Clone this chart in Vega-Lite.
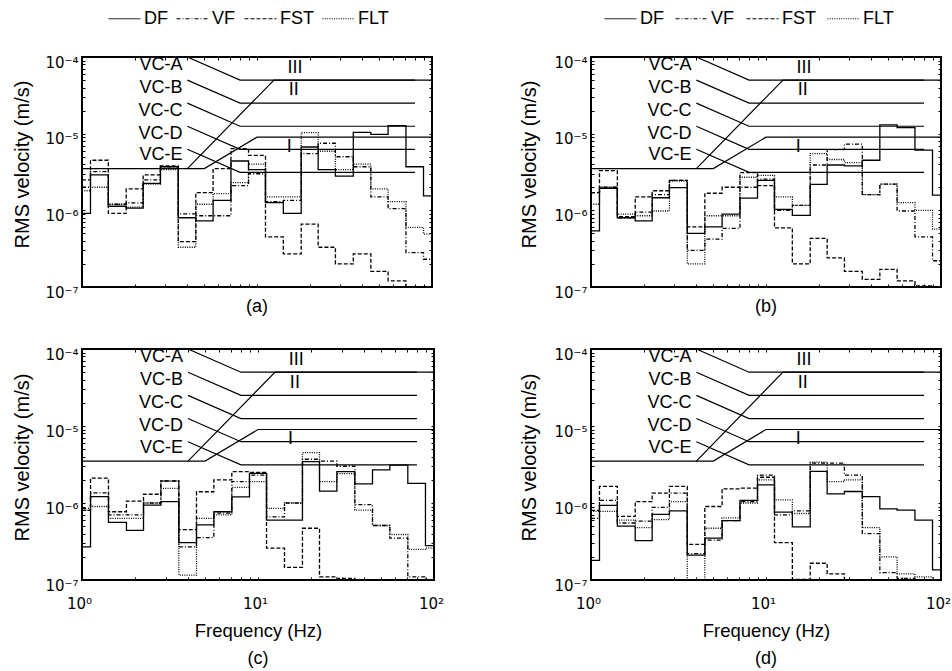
{
"$schema": "https://vega.github.io/schema/vega-lite/v6.json",
"padding": {"left": 10, "top": 1, "right": 5, "bottom": 5},
"config": {
  "font": "Liberation Sans",
  "view": {"stroke": "black", "strokeWidth": 2},
  "axis": {"labelFont": "DejaVu Sans", "labelFontSize": 15, "labelColor": "black", "titleFont": "Liberation Sans", "titleFontSize": 18.5, "titleFontWeight": "normal", "titleColor": "black", "grid": false, "domain": false, "tickColor": "black", "tickWidth": 1, "tickSize": -3, "labelOverlap": false, "labelFlush": false, "labelBound": false},
  "title": {"font": "Liberation Sans", "fontSize": 18, "fontWeight": "normal", "color": "black"},
  "legend": {"labelFont": "Liberation Sans", "labelColor": "black"}
},
"datasets": {
  "bands": [
    {"p":"a","s":"DF","f":1,"v":9.1e-7},{"p":"a","s":"DF","f":1.25,"v":2.9e-6},{"p":"a","s":"DF","f":1.6,"v":1.13e-6},{"p":"a","s":"DF","f":2,"v":1.07e-6},{"p":"a","s":"DF","f":2.5,"v":2.25e-6},{"p":"a","s":"DF","f":3.15,"v":3.7e-6},{"p":"a","s":"DF","f":4,"v":8.0e-7},{"p":"a","s":"DF","f":5,"v":7.3e-7},{"p":"a","s":"DF","f":6.3,"v":1.35e-6},{"p":"a","s":"DF","f":8,"v":4.4e-6},{"p":"a","s":"DF","f":10,"v":3.4e-6},{"p":"a","s":"DF","f":12.5,"v":1.26e-6},{"p":"a","s":"DF","f":16,"v":9.1e-7},{"p":"a","s":"DF","f":20,"v":6.7e-6},{"p":"a","s":"DF","f":25,"v":3.4e-6},{"p":"a","s":"DF","f":31.5,"v":2.8e-6},{"p":"a","s":"DF","f":40,"v":1.04e-5},{"p":"a","s":"DF","f":50,"v":9.8e-6},{"p":"a","s":"DF","f":63,"v":1.27e-5},{"p":"a","s":"DF","f":80,"v":3.7e-6},{"p":"a","s":"DF","f":100,"v":1.54e-6},
    {"p":"a","s":"VF","f":1,"v":2.0e-6},{"p":"a","s":"VF","f":1.25,"v":3.2e-6},{"p":"a","s":"VF","f":1.6,"v":1.2e-6},{"p":"a","s":"VF","f":2,"v":1.25e-6},{"p":"a","s":"VF","f":2.5,"v":2.5e-6},{"p":"a","s":"VF","f":3.15,"v":3.7e-6},{"p":"a","s":"VF","f":4,"v":9e-7},{"p":"a","s":"VF","f":5,"v":8.5e-7},{"p":"a","s":"VF","f":6.3,"v":8.5e-7},{"p":"a","s":"VF","f":8,"v":2.1e-6},{"p":"a","s":"VF","f":10,"v":3.0e-6},{"p":"a","s":"VF","f":12.5,"v":1.3e-6},{"p":"a","s":"VF","f":16,"v":1.35e-6},{"p":"a","s":"VF","f":20,"v":5.5e-6},{"p":"a","s":"VF","f":25,"v":7.5e-6},{"p":"a","s":"VF","f":31.5,"v":5.0e-6},{"p":"a","s":"VF","f":40,"v":3.7e-6},{"p":"a","s":"VF","f":50,"v":1.5e-6},{"p":"a","s":"VF","f":63,"v":1.05e-6},{"p":"a","s":"VF","f":80,"v":2.8e-7},{"p":"a","s":"VF","f":100,"v":2.3e-7},
    {"p":"a","s":"FST","f":1,"v":2.5e-6},{"p":"a","s":"FST","f":1.25,"v":4.5e-6},{"p":"a","s":"FST","f":1.6,"v":9.1e-7},{"p":"a","s":"FST","f":2,"v":1.9e-6},{"p":"a","s":"FST","f":2.5,"v":2.9e-6},{"p":"a","s":"FST","f":3.15,"v":3.8e-6},{"p":"a","s":"FST","f":4,"v":3.9e-7},{"p":"a","s":"FST","f":5,"v":1.7e-6},{"p":"a","s":"FST","f":6.3,"v":3.5e-6},{"p":"a","s":"FST","f":8,"v":6.4e-6},{"p":"a","s":"FST","f":10,"v":5.2e-6},{"p":"a","s":"FST","f":12.5,"v":4.5e-7},{"p":"a","s":"FST","f":16,"v":2.7e-7},{"p":"a","s":"FST","f":20,"v":6.6e-7},{"p":"a","s":"FST","f":25,"v":3.3e-7},{"p":"a","s":"FST","f":31.5,"v":2.0e-7},{"p":"a","s":"FST","f":40,"v":2.7e-7},{"p":"a","s":"FST","f":50,"v":1.6e-7},{"p":"a","s":"FST","f":63,"v":1.2e-7},{"p":"a","s":"FST","f":80,"v":9e-8},{"p":"a","s":"FST","f":100,"v":9e-8},
    {"p":"a","s":"FLT","f":1,"v":1.8e-6},{"p":"a","s":"FLT","f":1.25,"v":2.0e-6},{"p":"a","s":"FLT","f":1.6,"v":1.2e-6},{"p":"a","s":"FLT","f":2,"v":1.1e-6},{"p":"a","s":"FLT","f":2.5,"v":2.2e-6},{"p":"a","s":"FLT","f":3.15,"v":3.4e-6},{"p":"a","s":"FLT","f":4,"v":3.3e-7},{"p":"a","s":"FLT","f":5,"v":1.2e-6},{"p":"a","s":"FLT","f":6.3,"v":1.65e-6},{"p":"a","s":"FLT","f":8,"v":2.3e-6},{"p":"a","s":"FLT","f":10,"v":4.0e-6},{"p":"a","s":"FLT","f":12.5,"v":1.5e-6},{"p":"a","s":"FLT","f":16,"v":1.5e-6},{"p":"a","s":"FLT","f":20,"v":1.03e-5},{"p":"a","s":"FLT","f":25,"v":5.9e-6},{"p":"a","s":"FLT","f":31.5,"v":3.4e-6},{"p":"a","s":"FLT","f":40,"v":4.0e-6},{"p":"a","s":"FLT","f":50,"v":1.9e-6},{"p":"a","s":"FLT","f":63,"v":1.3e-6},{"p":"a","s":"FLT","f":80,"v":6e-7},{"p":"a","s":"FLT","f":100,"v":4.9e-7},

    {"p":"b","s":"DF","f":1,"v":5.4e-7},{"p":"b","s":"DF","f":1.25,"v":1.94e-6},{"p":"b","s":"DF","f":1.6,"v":8.0e-7},{"p":"b","s":"DF","f":2,"v":7.3e-7},{"p":"b","s":"DF","f":2.5,"v":1.46e-6},{"p":"b","s":"DF","f":3.15,"v":1.98e-6},{"p":"b","s":"DF","f":4,"v":5.0e-7},{"p":"b","s":"DF","f":5,"v":6.1e-7},{"p":"b","s":"DF","f":6.3,"v":8.9e-7},{"p":"b","s":"DF","f":8,"v":1.44e-6},{"p":"b","s":"DF","f":10,"v":2.46e-6},{"p":"b","s":"DF","f":12.5,"v":1.03e-6},{"p":"b","s":"DF","f":16,"v":8.6e-7},{"p":"b","s":"DF","f":20,"v":2.18e-6},{"p":"b","s":"DF","f":25,"v":3.9e-6},{"p":"b","s":"DF","f":31.5,"v":3.8e-6},{"p":"b","s":"DF","f":40,"v":4.5e-6},{"p":"b","s":"DF","f":50,"v":1.3e-5},{"p":"b","s":"DF","f":63,"v":1.2e-5},{"p":"b","s":"DF","f":80,"v":6.1e-6},{"p":"b","s":"DF","f":100,"v":1.58e-6},
    {"p":"b","s":"VF","f":1,"v":1.7e-6},{"p":"b","s":"VF","f":1.25,"v":2.0e-6},{"p":"b","s":"VF","f":1.6,"v":8.0e-7},{"p":"b","s":"VF","f":2,"v":9.5e-7},{"p":"b","s":"VF","f":2.5,"v":1.6e-6},{"p":"b","s":"VF","f":3.15,"v":2.46e-6},{"p":"b","s":"VF","f":4,"v":3.0e-7},{"p":"b","s":"VF","f":5,"v":4.2e-7},{"p":"b","s":"VF","f":6.3,"v":5.8e-7},{"p":"b","s":"VF","f":8,"v":2.0e-6},{"p":"b","s":"VF","f":10,"v":2.55e-6},{"p":"b","s":"VF","f":12.5,"v":1.0e-6},{"p":"b","s":"VF","f":16,"v":1.16e-6},{"p":"b","s":"VF","f":20,"v":3.9e-6},{"p":"b","s":"VF","f":25,"v":6.2e-6},{"p":"b","s":"VF","f":31.5,"v":7.3e-6},{"p":"b","s":"VF","f":40,"v":1.6e-6},{"p":"b","s":"VF","f":50,"v":2.2e-6},{"p":"b","s":"VF","f":63,"v":9.8e-7},{"p":"b","s":"VF","f":80,"v":4.5e-7},{"p":"b","s":"VF","f":100,"v":2.2e-7},
    {"p":"b","s":"FST","f":1,"v":1.7e-6},{"p":"b","s":"FST","f":1.25,"v":3.3e-6},{"p":"b","s":"FST","f":1.6,"v":8.3e-7},{"p":"b","s":"FST","f":2,"v":1.5e-6},{"p":"b","s":"FST","f":2.5,"v":1.8e-6},{"p":"b","s":"FST","f":3.15,"v":2.46e-6},{"p":"b","s":"FST","f":4,"v":6.1e-7},{"p":"b","s":"FST","f":5,"v":1.67e-6},{"p":"b","s":"FST","f":6.3,"v":2.0e-6},{"p":"b","s":"FST","f":8,"v":3.1e-6},{"p":"b","s":"FST","f":10,"v":2.1e-6},{"p":"b","s":"FST","f":12.5,"v":5.9e-7},{"p":"b","s":"FST","f":16,"v":2.0e-7},{"p":"b","s":"FST","f":20,"v":4.3e-7},{"p":"b","s":"FST","f":25,"v":2.4e-7},{"p":"b","s":"FST","f":31.5,"v":1.6e-7},{"p":"b","s":"FST","f":40,"v":1.26e-7},{"p":"b","s":"FST","f":50,"v":1.7e-7},{"p":"b","s":"FST","f":63,"v":1.2e-7},{"p":"b","s":"FST","f":80,"v":1.03e-7},{"p":"b","s":"FST","f":100,"v":9e-8},
    {"p":"b","s":"FLT","f":1,"v":1.2e-6},{"p":"b","s":"FLT","f":1.25,"v":2.0e-6},{"p":"b","s":"FLT","f":1.6,"v":8.9e-7},{"p":"b","s":"FLT","f":2,"v":8.5e-7},{"p":"b","s":"FLT","f":2.5,"v":9.8e-7},{"p":"b","s":"FLT","f":3.15,"v":2.4e-6},{"p":"b","s":"FLT","f":4,"v":2.0e-7},{"p":"b","s":"FLT","f":5,"v":8.5e-7},{"p":"b","s":"FLT","f":6.3,"v":8.5e-7},{"p":"b","s":"FLT","f":8,"v":2.7e-6},{"p":"b","s":"FLT","f":10,"v":2.85e-6},{"p":"b","s":"FLT","f":12.5,"v":1.5e-6},{"p":"b","s":"FLT","f":16,"v":1.16e-6},{"p":"b","s":"FLT","f":20,"v":5.5e-6},{"p":"b","s":"FLT","f":25,"v":4.6e-6},{"p":"b","s":"FLT","f":31.5,"v":4.2e-6},{"p":"b","s":"FLT","f":40,"v":1.6e-6},{"p":"b","s":"FLT","f":50,"v":2.2e-6},{"p":"b","s":"FLT","f":63,"v":1.26e-6},{"p":"b","s":"FLT","f":80,"v":1.0e-6},{"p":"b","s":"FLT","f":100,"v":5.7e-7},

    {"p":"c","s":"DF","f":1,"v":2.7e-7},{"p":"c","s":"DF","f":1.25,"v":1.21e-6},{"p":"c","s":"DF","f":1.6,"v":5.6e-7},{"p":"c","s":"DF","f":2,"v":4.4e-7},{"p":"c","s":"DF","f":2.5,"v":9.4e-7},{"p":"c","s":"DF","f":3.15,"v":1.04e-6},{"p":"c","s":"DF","f":4,"v":3.05e-7},{"p":"c","s":"DF","f":5,"v":5.2e-7},{"p":"c","s":"DF","f":6.3,"v":7.7e-7},{"p":"c","s":"DF","f":8,"v":1.2e-6},{"p":"c","s":"DF","f":10,"v":2.43e-6},{"p":"c","s":"DF","f":12.5,"v":6.0e-7},{"p":"c","s":"DF","f":16,"v":6.0e-7},{"p":"c","s":"DF","f":20,"v":3.44e-6},{"p":"c","s":"DF","f":25,"v":1.43e-6},{"p":"c","s":"DF","f":31.5,"v":2.55e-6},{"p":"c","s":"DF","f":40,"v":1.77e-6},{"p":"c","s":"DF","f":50,"v":2.7e-6},{"p":"c","s":"DF","f":63,"v":3.1e-6},{"p":"c","s":"DF","f":80,"v":1.8e-6},{"p":"c","s":"DF","f":100,"v":2.8e-7},
    {"p":"c","s":"VF","f":1,"v":8.5e-7},{"p":"c","s":"VF","f":1.25,"v":1.35e-6},{"p":"c","s":"VF","f":1.6,"v":7.0e-7},{"p":"c","s":"VF","f":2,"v":7.0e-7},{"p":"c","s":"VF","f":2.5,"v":1.0e-6},{"p":"c","s":"VF","f":3.15,"v":1.93e-6},{"p":"c","s":"VF","f":4,"v":2.7e-7},{"p":"c","s":"VF","f":5,"v":3.55e-7},{"p":"c","s":"VF","f":6.3,"v":7.4e-7},{"p":"c","s":"VF","f":8,"v":1.9e-6},{"p":"c","s":"VF","f":10,"v":2.3e-6},{"p":"c","s":"VF","f":12.5,"v":6.6e-7},{"p":"c","s":"VF","f":16,"v":1.0e-6},{"p":"c","s":"VF","f":20,"v":3.7e-6},{"p":"c","s":"VF","f":25,"v":3.5e-6},{"p":"c","s":"VF","f":31.5,"v":3.0e-6},{"p":"c","s":"VF","f":40,"v":9.5e-7},{"p":"c","s":"VF","f":50,"v":5.1e-7},{"p":"c","s":"VF","f":63,"v":3.5e-7},{"p":"c","s":"VF","f":80,"v":1.1e-7},{"p":"c","s":"VF","f":100,"v":9e-8},
    {"p":"c","s":"FST","f":1,"v":8e-7},{"p":"c","s":"FST","f":1.25,"v":2.1e-6},{"p":"c","s":"FST","f":1.6,"v":7.7e-7},{"p":"c","s":"FST","f":2,"v":1.06e-6},{"p":"c","s":"FST","f":2.5,"v":1.3e-6},{"p":"c","s":"FST","f":3.15,"v":1.93e-6},{"p":"c","s":"FST","f":4,"v":4.5e-7},{"p":"c","s":"FST","f":5,"v":1.4e-6},{"p":"c","s":"FST","f":6.3,"v":2.0e-6},{"p":"c","s":"FST","f":8,"v":2.55e-6},{"p":"c","s":"FST","f":10,"v":2.5e-6},{"p":"c","s":"FST","f":12.5,"v":2.6e-7},{"p":"c","s":"FST","f":16,"v":1.46e-7},{"p":"c","s":"FST","f":20,"v":4.7e-7},{"p":"c","s":"FST","f":25,"v":1.1e-7},{"p":"c","s":"FST","f":31.5,"v":1.05e-7},{"p":"c","s":"FST","f":40,"v":9e-8},{"p":"c","s":"FST","f":50,"v":9e-8},{"p":"c","s":"FST","f":63,"v":9e-8},{"p":"c","s":"FST","f":80,"v":9e-8},{"p":"c","s":"FST","f":100,"v":9e-8},
    {"p":"c","s":"FLT","f":1,"v":8.1e-7},{"p":"c","s":"FLT","f":1.25,"v":9e-7},{"p":"c","s":"FLT","f":1.6,"v":6.3e-7},{"p":"c","s":"FLT","f":2,"v":6.3e-7},{"p":"c","s":"FLT","f":2.5,"v":1.0e-6},{"p":"c","s":"FLT","f":3.15,"v":1.55e-6},{"p":"c","s":"FLT","f":4,"v":1.16e-7},{"p":"c","s":"FLT","f":5,"v":6.3e-7},{"p":"c","s":"FLT","f":6.3,"v":7.0e-7},{"p":"c","s":"FLT","f":8,"v":1.6e-6},{"p":"c","s":"FLT","f":10,"v":1.9e-6},{"p":"c","s":"FLT","f":12.5,"v":8.5e-7},{"p":"c","s":"FLT","f":16,"v":1.0e-6},{"p":"c","s":"FLT","f":20,"v":4.5e-6},{"p":"c","s":"FLT","f":25,"v":1.9e-6},{"p":"c","s":"FLT","f":31.5,"v":2.4e-6},{"p":"c","s":"FLT","f":40,"v":8.1e-7},{"p":"c","s":"FLT","f":50,"v":5.1e-7},{"p":"c","s":"FLT","f":63,"v":3.9e-7},{"p":"c","s":"FLT","f":80,"v":2.5e-7},{"p":"c","s":"FLT","f":100,"v":2.6e-7},

    {"p":"d","s":"DF","f":1,"v":1.8e-7},{"p":"d","s":"DF","f":1.25,"v":9.3e-7},{"p":"d","s":"DF","f":1.6,"v":5.0e-7},{"p":"d","s":"DF","f":2,"v":3.25e-7},{"p":"d","s":"DF","f":2.5,"v":7.1e-7},{"p":"d","s":"DF","f":3.15,"v":7.9e-7},{"p":"d","s":"DF","f":4,"v":2.1e-7},{"p":"d","s":"DF","f":5,"v":3.5e-7},{"p":"d","s":"DF","f":6.3,"v":5.9e-7},{"p":"d","s":"DF","f":8,"v":1.08e-6},{"p":"d","s":"DF","f":10,"v":1.72e-6},{"p":"d","s":"DF","f":12.5,"v":7.6e-7},{"p":"d","s":"DF","f":16,"v":4.9e-7},{"p":"d","s":"DF","f":20,"v":2.57e-6},{"p":"d","s":"DF","f":25,"v":1.31e-6},{"p":"d","s":"DF","f":31.5,"v":1.41e-6},{"p":"d","s":"DF","f":40,"v":1.21e-6},{"p":"d","s":"DF","f":50,"v":8.4e-7},{"p":"d","s":"DF","f":63,"v":8.1e-7},{"p":"d","s":"DF","f":80,"v":6.0e-7},{"p":"d","s":"DF","f":100,"v":1.35e-7},
    {"p":"d","s":"VF","f":1,"v":6.3e-7},{"p":"d","s":"VF","f":1.25,"v":1.08e-6},{"p":"d","s":"VF","f":1.6,"v":5.5e-7},{"p":"d","s":"VF","f":2,"v":5.8e-7},{"p":"d","s":"VF","f":2.5,"v":8.8e-7},{"p":"d","s":"VF","f":3.15,"v":1.34e-6},{"p":"d","s":"VF","f":4,"v":2.2e-7},{"p":"d","s":"VF","f":5,"v":3.3e-7},{"p":"d","s":"VF","f":6.3,"v":5.9e-7},{"p":"d","s":"VF","f":8,"v":1.04e-6},{"p":"d","s":"VF","f":10,"v":2.3e-6},{"p":"d","s":"VF","f":12.5,"v":7.0e-7},{"p":"d","s":"VF","f":16,"v":7.9e-7},{"p":"d","s":"VF","f":20,"v":3.3e-6},{"p":"d","s":"VF","f":25,"v":3.3e-6},{"p":"d","s":"VF","f":31.5,"v":2.3e-6},{"p":"d","s":"VF","f":40,"v":4.0e-7},{"p":"d","s":"VF","f":50,"v":1.25e-7},{"p":"d","s":"VF","f":63,"v":1.05e-7},{"p":"d","s":"VF","f":80,"v":9e-8},{"p":"d","s":"VF","f":100,"v":9e-8},
    {"p":"d","s":"FST","f":1,"v":8e-7},{"p":"d","s":"FST","f":1.25,"v":1.64e-6},{"p":"d","s":"FST","f":1.6,"v":6.7e-7},{"p":"d","s":"FST","f":2,"v":1.04e-6},{"p":"d","s":"FST","f":2.5,"v":1.34e-6},{"p":"d","s":"FST","f":3.15,"v":1.64e-6},{"p":"d","s":"FST","f":4,"v":2.9e-7},{"p":"d","s":"FST","f":5,"v":9.0e-7},{"p":"d","s":"FST","f":6.3,"v":1.53e-6},{"p":"d","s":"FST","f":8,"v":1.56e-6},{"p":"d","s":"FST","f":10,"v":2.16e-6},{"p":"d","s":"FST","f":12.5,"v":3.06e-7},{"p":"d","s":"FST","f":16,"v":1.02e-7},{"p":"d","s":"FST","f":20,"v":1.65e-7},{"p":"d","s":"FST","f":25,"v":1.2e-7},{"p":"d","s":"FST","f":31.5,"v":9e-8},{"p":"d","s":"FST","f":40,"v":9e-8},{"p":"d","s":"FST","f":50,"v":9e-8},{"p":"d","s":"FST","f":63,"v":9e-8},{"p":"d","s":"FST","f":80,"v":9e-8},{"p":"d","s":"FST","f":100,"v":9e-8},
    {"p":"d","s":"FLT","f":1,"v":7.8e-7},{"p":"d","s":"FLT","f":1.25,"v":7.8e-7},{"p":"d","s":"FLT","f":1.6,"v":6.0e-7},{"p":"d","s":"FLT","f":2,"v":4.8e-7},{"p":"d","s":"FLT","f":2.5,"v":6.1e-7},{"p":"d","s":"FLT","f":3.15,"v":1.04e-6},{"p":"d","s":"FLT","f":4,"v":9e-8},{"p":"d","s":"FLT","f":5,"v":4.7e-7},{"p":"d","s":"FLT","f":6.3,"v":6.4e-7},{"p":"d","s":"FLT","f":8,"v":1.0e-6},{"p":"d","s":"FLT","f":10,"v":2.0e-6},{"p":"d","s":"FLT","f":12.5,"v":1.1e-6},{"p":"d","s":"FLT","f":16,"v":7.3e-7},{"p":"d","s":"FLT","f":20,"v":3.4e-6},{"p":"d","s":"FLT","f":25,"v":1.9e-6},{"p":"d","s":"FLT","f":31.5,"v":2.0e-6},{"p":"d","s":"FLT","f":40,"v":4.8e-7},{"p":"d","s":"FLT","f":50,"v":2.0e-7},{"p":"d","s":"FLT","f":63,"v":1.2e-7},{"p":"d","s":"FLT","f":80,"v":1.1e-7},{"p":"d","s":"FLT","f":100,"v":9e-8}
  ],
  "crit": [
    {"c":"VC-A","f":4,"v":1e-4},{"c":"VC-A","f":8,"v":5e-5},{"c":"VC-A","f":80,"v":5e-5},
    {"c":"VC-B","f":4,"v":5e-5},{"c":"VC-B","f":8,"v":2.5e-5},{"c":"VC-B","f":80,"v":2.5e-5},
    {"c":"VC-C","f":4,"v":2.5e-5},{"c":"VC-C","f":8,"v":1.25e-5},{"c":"VC-C","f":80,"v":1.25e-5},
    {"c":"VC-D","f":4,"v":1.25e-5},{"c":"VC-D","f":8,"v":6.25e-6},{"c":"VC-D","f":80,"v":6.25e-6},
    {"c":"VC-E","f":4,"v":6.25e-6},{"c":"VC-E","f":8,"v":3.125e-6},{"c":"VC-E","f":80,"v":3.125e-6},
    {"c":"L1","f":1,"v":3.5e-6},{"c":"L1","f":5,"v":3.5e-6},{"c":"L1","f":10,"v":9e-6},{"c":"L1","f":100,"v":9e-6},
    {"c":"L2","f":4,"v":3.5e-6},{"c":"L2","f":12.5,"v":5e-5},{"c":"L2","f":100,"v":5e-5}
  ],
  "labels": [
    {"t":"VC-A","k":"vc","f":3.75,"v":7.9e-5},{"t":"VC-B","k":"vc","f":3.75,"v":3.95e-5},{"t":"VC-C","k":"vc","f":3.75,"v":1.98e-5},{"t":"VC-D","k":"vc","f":3.75,"v":1.0e-5},{"t":"VC-E","k":"vc","f":3.75,"v":5.2e-6},
    {"t":"III","k":"r","f":16.5,"v":7.1e-5},{"t":"II","k":"r","f":16.2,"v":3.67e-5},{"t":"I","k":"r","f":15.3,"v":6.7e-6}
  ]
},
"concat": [
  {
    "width": 350, "height": 230,
    "title": {"text": "(a)", "orient": "bottom", "frame": "group", "offset": -2},
    "resolve": {"axis": {"x": "independent", "y": "independent"}},
    "layer": [
      {"data": {"name": "bands"}, "transform": [{"filter": "datum.p === 'a'"}],
       "mark": {"type": "line", "interpolate": "step", "clip": true, "color": "black", "strokeWidth": 1.3},
       "encoding": {
         "x": {"field": "f", "type": "quantitative", "scale": {"type": "log", "domain": [1, 100], "nice": false},
               "axis": {"orient": "bottom", "values": [1,2,3,4,5,6,7,8,9,10,20,30,40,50,60,70,80,90,100], "labels": false, "title": null}},
         "y": {"field": "v", "type": "quantitative", "scale": {"type": "log", "domain": [1e-7, 1e-4], "nice": false},
               "axis": {"orient": "left", "values": [1e-7,2e-7,3e-7,4e-7,5e-7,6e-7,7e-7,8e-7,9e-7,1e-6,2e-6,3e-6,4e-6,5e-6,6e-6,7e-6,8e-6,9e-6,1e-5,2e-5,3e-5,4e-5,5e-5,6e-5,7e-5,8e-5,9e-5,1e-4],
                        "labelExpr": "datum.value === 1e-4 ? '10⁻⁴' : datum.value === 1e-5 ? '10⁻⁵' : datum.value === 1e-6 ? '10⁻⁶' : datum.value === 1e-7 ? '10⁻⁷' : ''",
                        "labelPadding": 7, "labelOffset": 5, "title": "RMS velocity (m/s)", "titleFontSize": 20, "titleX": -54, "titleY": 107, "titleAlign": "center", "titleBaseline": "alphabetic"}},
         "strokeDash": {"field": "s", "type": "nominal",
               "scale": {"domain": ["DF", "VF", "FST", "FLT"], "range": [[1, 0], [4, 2, 1, 2], [4, 2], [1, 1.3]]},
               "legend": {"orient": "none", "legendX": 26, "legendY": -55, "direction": "horizontal", "title": null, "symbolType": "stroke", "symbolSize": 1024, "symbolStrokeWidth": 1, "symbolStrokeColor": "black", "labelFontSize": 18, "labelOffset": 3, "columnPadding": 6, "padding": 0}}
       }},
      {"data": {"name": "crit"},
       "mark": {"type": "line", "clip": true, "color": "black", "strokeWidth": 1.2},
       "encoding": {
         "x": {"field": "f", "type": "quantitative", "scale": {"type": "log", "domain": [1, 100], "nice": false},
               "axis": {"orient": "top", "values": [1,2,3,4,5,6,7,8,9,10,20,30,40,50,60,70,80,90,100], "labels": false, "title": null}},
         "y": {"field": "v", "type": "quantitative", "scale": {"type": "log", "domain": [1e-7, 1e-4], "nice": false},
               "axis": {"orient": "right", "values": [1e-7,2e-7,3e-7,4e-7,5e-7,6e-7,7e-7,8e-7,9e-7,1e-6,2e-6,3e-6,4e-6,5e-6,6e-6,7e-6,8e-6,9e-6,1e-5,2e-5,3e-5,4e-5,5e-5,6e-5,7e-5,8e-5,9e-5,1e-4], "labels": false, "title": null}},
         "detail": {"field": "c"}
       }},
      {"data": {"name": "labels"}, "transform": [{"filter": "datum.k === 'vc'"}],
       "mark": {"type": "text", "align": "right", "baseline": "middle", "fontSize": 18, "color": "black"},
       "encoding": {
         "x": {"field": "f", "type": "quantitative", "scale": {"type": "log", "domain": [1, 100], "nice": false}, "axis": null},
         "y": {"field": "v", "type": "quantitative", "scale": {"type": "log", "domain": [1e-7, 1e-4], "nice": false}, "axis": null},
         "text": {"field": "t"}
       }},
      {"data": {"name": "labels"}, "transform": [{"filter": "datum.k === 'r'"}],
       "mark": {"type": "text", "align": "center", "baseline": "middle", "fontSize": 18, "color": "black"},
       "encoding": {
         "x": {"field": "f", "type": "quantitative", "scale": {"type": "log", "domain": [1, 100], "nice": false}, "axis": null},
         "y": {"field": "v", "type": "quantitative", "scale": {"type": "log", "domain": [1e-7, 1e-4], "nice": false}, "axis": null},
         "text": {"field": "t"}
       }}
    ]
  },
  {
    "width": 350, "height": 230,
    "title": {"text": "(b)", "orient": "bottom", "frame": "group", "offset": -2},
    "resolve": {"axis": {"x": "independent", "y": "independent"}},
    "layer": [
      {"data": {"name": "bands"}, "transform": [{"filter": "datum.p === 'b'"}],
       "mark": {"type": "line", "interpolate": "step", "clip": true, "color": "black", "strokeWidth": 1.3},
       "encoding": {
         "x": {"field": "f", "type": "quantitative", "scale": {"type": "log", "domain": [1, 100], "nice": false},
               "axis": {"orient": "bottom", "values": [1,2,3,4,5,6,7,8,9,10,20,30,40,50,60,70,80,90,100], "labels": false, "title": null}},
         "y": {"field": "v", "type": "quantitative", "scale": {"type": "log", "domain": [1e-7, 1e-4], "nice": false},
               "axis": {"orient": "left", "values": [1e-7,2e-7,3e-7,4e-7,5e-7,6e-7,7e-7,8e-7,9e-7,1e-6,2e-6,3e-6,4e-6,5e-6,6e-6,7e-6,8e-6,9e-6,1e-5,2e-5,3e-5,4e-5,5e-5,6e-5,7e-5,8e-5,9e-5,1e-4],
                        "labelExpr": "datum.value === 1e-4 ? '10⁻⁴' : datum.value === 1e-5 ? '10⁻⁵' : datum.value === 1e-6 ? '10⁻⁶' : datum.value === 1e-7 ? '10⁻⁷' : ''",
                        "labelPadding": 7, "labelOffset": 5, "title": "RMS velocity (m/s)", "titleFontSize": 20, "titleX": -56, "titleY": 107, "titleAlign": "center", "titleBaseline": "alphabetic"}},
         "strokeDash": {"field": "s", "type": "nominal",
               "scale": {"domain": ["DF", "VF", "FST", "FLT"], "range": [[1, 0], [4, 2, 1, 2], [4, 2], [1, 1.3]]},
               "legend": {"orient": "none", "legendX": 13, "legendY": -55, "direction": "horizontal", "title": null, "symbolType": "stroke", "symbolSize": 1024, "symbolStrokeWidth": 1, "symbolStrokeColor": "black", "labelFontSize": 18, "labelOffset": 3, "columnPadding": 9, "padding": 0}}
       }},
      {"data": {"name": "crit"},
       "mark": {"type": "line", "clip": true, "color": "black", "strokeWidth": 1.2},
       "encoding": {
         "x": {"field": "f", "type": "quantitative", "scale": {"type": "log", "domain": [1, 100], "nice": false},
               "axis": {"orient": "top", "values": [1,2,3,4,5,6,7,8,9,10,20,30,40,50,60,70,80,90,100], "labels": false, "title": null}},
         "y": {"field": "v", "type": "quantitative", "scale": {"type": "log", "domain": [1e-7, 1e-4], "nice": false},
               "axis": {"orient": "right", "values": [1e-7,2e-7,3e-7,4e-7,5e-7,6e-7,7e-7,8e-7,9e-7,1e-6,2e-6,3e-6,4e-6,5e-6,6e-6,7e-6,8e-6,9e-6,1e-5,2e-5,3e-5,4e-5,5e-5,6e-5,7e-5,8e-5,9e-5,1e-4], "labels": false, "title": null}},
         "detail": {"field": "c"}
       }},
      {"data": {"name": "labels"}, "transform": [{"filter": "datum.k === 'vc'"}],
       "mark": {"type": "text", "align": "right", "baseline": "middle", "fontSize": 18, "color": "black"},
       "encoding": {
         "x": {"field": "f", "type": "quantitative", "scale": {"type": "log", "domain": [1, 100], "nice": false}, "axis": null},
         "y": {"field": "v", "type": "quantitative", "scale": {"type": "log", "domain": [1e-7, 1e-4], "nice": false}, "axis": null},
         "text": {"field": "t"}
       }},
      {"data": {"name": "labels"}, "transform": [{"filter": "datum.k === 'r'"}],
       "mark": {"type": "text", "align": "center", "baseline": "middle", "fontSize": 18, "color": "black"},
       "encoding": {
         "x": {"field": "f", "type": "quantitative", "scale": {"type": "log", "domain": [1, 100], "nice": false}, "axis": null},
         "y": {"field": "v", "type": "quantitative", "scale": {"type": "log", "domain": [1e-7, 1e-4], "nice": false}, "axis": null},
         "text": {"field": "t"}
       }}
    ]
  },
  {
    "width": 352, "height": 231,
    "title": {"text": "(c)", "orient": "bottom", "frame": "group", "offset": 10},
    "resolve": {"axis": {"x": "independent", "y": "independent"}},
    "layer": [
      {"data": {"name": "bands"}, "transform": [{"filter": "datum.p === 'c'"}],
       "mark": {"type": "line", "interpolate": "step", "clip": true, "color": "black", "strokeWidth": 1.3},
       "encoding": {
         "x": {"field": "f", "type": "quantitative", "scale": {"type": "log", "domain": [1, 100], "nice": false},
               "axis": {"orient": "bottom", "values": [1,2,3,4,5,6,7,8,9,10,20,30,40,50,60,70,80,90,100],
                        "labelExpr": "datum.value === 1 ? '10⁰' : datum.value === 10 ? '10¹' : datum.value === 100 ? '10²' : ''",
                        "labelPadding": 19, "labelOffset": -3, "title": "Frequency (Hz)", "titlePadding": 10}},
         "y": {"field": "v", "type": "quantitative", "scale": {"type": "log", "domain": [1e-7, 1e-4], "nice": false},
               "axis": {"orient": "left", "values": [1e-7,2e-7,3e-7,4e-7,5e-7,6e-7,7e-7,8e-7,9e-7,1e-6,2e-6,3e-6,4e-6,5e-6,6e-6,7e-6,8e-6,9e-6,1e-5,2e-5,3e-5,4e-5,5e-5,6e-5,7e-5,8e-5,9e-5,1e-4],
                        "labelExpr": "datum.value === 1e-4 ? '10⁻⁴' : datum.value === 1e-5 ? '10⁻⁵' : datum.value === 1e-6 ? '10⁻⁶' : datum.value === 1e-7 ? '10⁻⁷' : ''",
                        "labelPadding": 7, "labelOffset": 5, "title": "RMS velocity (m/s)", "titleFontSize": 20, "titleX": -54, "titleY": 108, "titleAlign": "center", "titleBaseline": "alphabetic"}},
         "strokeDash": {"field": "s", "type": "nominal",
               "scale": {"domain": ["DF", "VF", "FST", "FLT"], "range": [[1, 0], [4, 2, 1, 2], [4, 2], [1, 1.3]]},
               "legend": null}
       }},
      {"data": {"name": "crit"},
       "mark": {"type": "line", "clip": true, "color": "black", "strokeWidth": 1.2},
       "encoding": {
         "x": {"field": "f", "type": "quantitative", "scale": {"type": "log", "domain": [1, 100], "nice": false},
               "axis": {"orient": "top", "values": [1,2,3,4,5,6,7,8,9,10,20,30,40,50,60,70,80,90,100], "labels": false, "title": null}},
         "y": {"field": "v", "type": "quantitative", "scale": {"type": "log", "domain": [1e-7, 1e-4], "nice": false},
               "axis": {"orient": "right", "values": [1e-7,2e-7,3e-7,4e-7,5e-7,6e-7,7e-7,8e-7,9e-7,1e-6,2e-6,3e-6,4e-6,5e-6,6e-6,7e-6,8e-6,9e-6,1e-5,2e-5,3e-5,4e-5,5e-5,6e-5,7e-5,8e-5,9e-5,1e-4], "labels": false, "title": null}},
         "detail": {"field": "c"}
       }},
      {"data": {"name": "labels"}, "transform": [{"filter": "datum.k === 'vc'"}],
       "mark": {"type": "text", "align": "right", "baseline": "middle", "fontSize": 18, "color": "black"},
       "encoding": {
         "x": {"field": "f", "type": "quantitative", "scale": {"type": "log", "domain": [1, 100], "nice": false}, "axis": null},
         "y": {"field": "v", "type": "quantitative", "scale": {"type": "log", "domain": [1e-7, 1e-4], "nice": false}, "axis": null},
         "text": {"field": "t"}
       }},
      {"data": {"name": "labels"}, "transform": [{"filter": "datum.k === 'r'"}],
       "mark": {"type": "text", "align": "center", "baseline": "middle", "fontSize": 18, "color": "black"},
       "encoding": {
         "x": {"field": "f", "type": "quantitative", "scale": {"type": "log", "domain": [1, 100], "nice": false}, "axis": null},
         "y": {"field": "v", "type": "quantitative", "scale": {"type": "log", "domain": [1e-7, 1e-4], "nice": false}, "axis": null},
         "text": {"field": "t"}
       }}
    ]
  },
  {
    "width": 350, "height": 231,
    "title": {"text": "(d)", "orient": "bottom", "frame": "group", "offset": 10},
    "resolve": {"axis": {"x": "independent", "y": "independent"}},
    "layer": [
      {"data": {"name": "bands"}, "transform": [{"filter": "datum.p === 'd'"}],
       "mark": {"type": "line", "interpolate": "step", "clip": true, "color": "black", "strokeWidth": 1.3},
       "encoding": {
         "x": {"field": "f", "type": "quantitative", "scale": {"type": "log", "domain": [1, 100], "nice": false},
               "axis": {"orient": "bottom", "values": [1,2,3,4,5,6,7,8,9,10,20,30,40,50,60,70,80,90,100],
                        "labelExpr": "datum.value === 1 ? '10⁰' : datum.value === 10 ? '10¹' : datum.value === 100 ? '10²' : ''",
                        "labelPadding": 19, "labelOffset": -3, "title": "Frequency (Hz)", "titlePadding": 10}},
         "y": {"field": "v", "type": "quantitative", "scale": {"type": "log", "domain": [1e-7, 1e-4], "nice": false},
               "axis": {"orient": "left", "values": [1e-7,2e-7,3e-7,4e-7,5e-7,6e-7,7e-7,8e-7,9e-7,1e-6,2e-6,3e-6,4e-6,5e-6,6e-6,7e-6,8e-6,9e-6,1e-5,2e-5,3e-5,4e-5,5e-5,6e-5,7e-5,8e-5,9e-5,1e-4],
                        "labelExpr": "datum.value === 1e-4 ? '10⁻⁴' : datum.value === 1e-5 ? '10⁻⁵' : datum.value === 1e-6 ? '10⁻⁶' : datum.value === 1e-7 ? '10⁻⁷' : ''",
                        "labelPadding": 7, "labelOffset": 5, "title": "RMS velocity (m/s)", "titleFontSize": 20, "titleX": -56, "titleY": 108, "titleAlign": "center", "titleBaseline": "alphabetic"}},
         "strokeDash": {"field": "s", "type": "nominal",
               "scale": {"domain": ["DF", "VF", "FST", "FLT"], "range": [[1, 0], [4, 2, 1, 2], [4, 2], [1, 1.3]]},
               "legend": null}
       }},
      {"data": {"name": "crit"},
       "mark": {"type": "line", "clip": true, "color": "black", "strokeWidth": 1.2},
       "encoding": {
         "x": {"field": "f", "type": "quantitative", "scale": {"type": "log", "domain": [1, 100], "nice": false},
               "axis": {"orient": "top", "values": [1,2,3,4,5,6,7,8,9,10,20,30,40,50,60,70,80,90,100], "labels": false, "title": null}},
         "y": {"field": "v", "type": "quantitative", "scale": {"type": "log", "domain": [1e-7, 1e-4], "nice": false},
               "axis": {"orient": "right", "values": [1e-7,2e-7,3e-7,4e-7,5e-7,6e-7,7e-7,8e-7,9e-7,1e-6,2e-6,3e-6,4e-6,5e-6,6e-6,7e-6,8e-6,9e-6,1e-5,2e-5,3e-5,4e-5,5e-5,6e-5,7e-5,8e-5,9e-5,1e-4], "labels": false, "title": null}},
         "detail": {"field": "c"}
       }},
      {"data": {"name": "labels"}, "transform": [{"filter": "datum.k === 'vc'"}],
       "mark": {"type": "text", "align": "right", "baseline": "middle", "fontSize": 18, "color": "black"},
       "encoding": {
         "x": {"field": "f", "type": "quantitative", "scale": {"type": "log", "domain": [1, 100], "nice": false}, "axis": null},
         "y": {"field": "v", "type": "quantitative", "scale": {"type": "log", "domain": [1e-7, 1e-4], "nice": false}, "axis": null},
         "text": {"field": "t"}
       }},
      {"data": {"name": "labels"}, "transform": [{"filter": "datum.k === 'r'"}],
       "mark": {"type": "text", "align": "center", "baseline": "middle", "fontSize": 18, "color": "black"},
       "encoding": {
         "x": {"field": "f", "type": "quantitative", "scale": {"type": "log", "domain": [1, 100], "nice": false}, "axis": null},
         "y": {"field": "v", "type": "quantitative", "scale": {"type": "log", "domain": [1e-7, 1e-4], "nice": false}, "axis": null},
         "text": {"field": "t"}
       }}
    ]
  }
],
"columns": 2,
"spacing": {"column": 157, "row": 62},
"bounds": "flush",
"resolve": {"scale": {"strokeDash": "independent"}, "legend": {"strokeDash": "independent"}}
}
